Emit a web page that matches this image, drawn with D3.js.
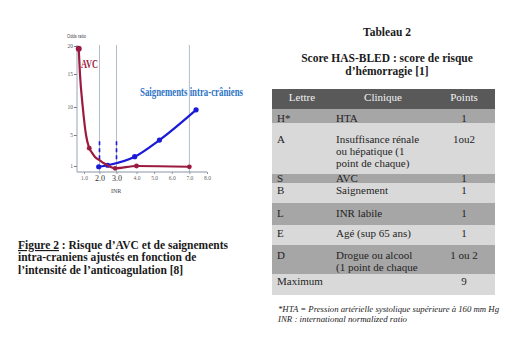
<!DOCTYPE html>
<html><head><meta charset="utf-8">
<script src="https://cdn.jsdelivr.net/npm/d3@7"></script>
<style>body{margin:0;background:#fff}svg{display:block}</style>
</head><body>
<script>
// ---------- data ----------
const xTicks = [1, 2, 3, 4, 5, 6, 7, 8];
const xTickLabels = ["1.0", "2.0", "3.0", "4.0", "5.0", "6.0", "7.0", "8.0"];
const yTicks = [1, 5, 10, 15, 20];
const yTickLabels = ["1", "5", "10", "15", "20"];
const gridINR = [2, 3, 7];
const targetINR = [2, 3];
const targetOR = [1.65, 4.2];
// AVC curve (INR, odds ratio)
const avcINR = [0.66, 0.74, 0.92, 1.13, 1.34, 1.52, 1.71, 2.0, 2.26, 2.62, 2.92, 4.0, 7.0];
const avcOR  = [19.5, 15, 10, 5, 3.3, 2.7, 2.15, 1.75, 1.35, 0.9, 0.7, 1.0, 0.9];
const avcMarkINR = [0.66, 1.34, 2.92, 4.0, 7.0];
const avcMarkOR  = [19.5, 3.3, 0.7, 1.0, 0.9];
// Intracranial bleeding curve
const hemINR = [1.95, 2.48, 3.91, 5.3, 7.38];
const hemOR  = [0.9, 1.1, 2.2, 4.35, 9.5];

const tableHeader = ["Lettre", "Clinique", "Points"];
const tableLetters = ["H*", "A", "S", "B", "L", "E", "D", "Maximum"];
const tableClinique = [["HTA"], ["Insuffisance rénale", "ou hépatique (1", "point de chaque)"], ["AVC"], ["Saignement"], ["INR labile"], ["Agé (sup 65 ans)"], ["Drogue ou alcool", "(1 point de chaque"], [""]];
const tablePoints = ["1", "1ou2", "1", "1", "1", "1", "1 ou 2", "9"];

const captionLines = ["Risque d’AVC et de saignements", "intra-craniens ajustés en fonction de", "l’intensité de l’anticoagulation [8]"];
const footnotes = ["*HTA = Pression artérielle systolique supérieure à 160 mm Hg", "INR : international normalized ratio"];

// ---------- layout ----------
const W = 521, H = 339;
const svg = d3.select("body").append("svg").attr("width", W).attr("height", H);
svg.append("rect").attr("width", W).attr("height", H).attr("fill", "#fff");

const x = d3.scaleLinear().domain([1, 2, 3, 4, 8]).range([84, 99.5, 116.5, 136.5, 207]);
const y = d3.scaleLinear().domain([1, 5, 10, 15, 20]).range([166, 135, 107, 74, 46]);
const axisY = 172, axisX = 77;
const RED = "#9b1b40", BLUE = "#1a1ad8";

const g = svg.append("g");
// gridlines
g.selectAll(".grid").data(gridINR).join("line")
  .attr("x1", d => x(d)).attr("x2", d => x(d)).attr("y1", 45).attr("y2", axisY)
  .attr("stroke", "#b3bccb").attr("stroke-width", 1);

// x axis
const xa = g.append("g").attr("transform", `translate(0,${axisY})`)
  .call(d3.axisBottom(x).tickValues(xTicks).tickSize(2).tickPadding(2).tickFormat((d, i) => xTickLabels[i]));
xa.select(".domain").remove();
xa.selectAll(".tick line").attr("stroke", "#8a94a6");
xa.selectAll(".tick text").attr("font-family", "Liberation Serif").attr("font-size", 5.5).attr("fill", "#666")
  .filter(d => d === 2 || d === 3).attr("font-size", 8).attr("fill", "#333").attr("dy", "0.6em");
g.append("line").attr("x1", axisX).attr("x2", 207).attr("y1", axisY).attr("y2", axisY).attr("stroke", "#8a94a6").attr("stroke-width", 1.2);

// y axis
const ya = g.append("g").attr("transform", `translate(${axisX},0)`)
  .call(d3.axisLeft(y).tickValues(yTicks).tickSize(3).tickPadding(1).tickFormat((d, i) => yTickLabels[i]));
ya.select(".domain").remove();
ya.selectAll(".tick line").attr("stroke", "#777");
ya.selectAll(".tick text").attr("font-family", "Liberation Serif").attr("font-size", 5.5).attr("fill", "#555");
g.append("line").attr("x1", axisX).attr("x2", axisX).attr("y1", 45).attr("y2", axisY).attr("stroke", "#9aa3b3").attr("stroke-width", 1);

g.append("text").attr("x", 67).attr("y", 38).text("Odds ratio")
  .attr("font-family", "Liberation Sans Narrow, Liberation Sans").attr("font-size", 5.5).attr("fill", "#444")
  .attr("textLength", 19).attr("lengthAdjust", "spacingAndGlyphs");
g.append("text").attr("x", 111).attr("y", 193).text("INR")
  .attr("font-family", "Liberation Serif").attr("font-size", 6).attr("fill", "#444");

// target range dashes
g.selectAll(".tgt").data(targetINR).join("line")
  .attr("x1", d => x(d)).attr("x2", d => x(d)).attr("y1", y(targetOR[1])).attr("y2", y(targetOR[0]))
  .attr("stroke", BLUE).attr("stroke-width", 1.6).attr("stroke-dasharray", "4,3");

const line = d3.line().x(d => x(d[0])).y(d => y(d[1])).curve(d3.curveMonotoneX);
const avc = avcINR.map((v, i) => [v, avcOR[i]]);
const hem = hemINR.map((v, i) => [v, hemOR[i]]);

g.append("path").attr("d", line(hem)).attr("fill", "none").attr("stroke", BLUE).attr("stroke-width", 2.2);
g.selectAll(".hm").data(hem).join("circle").attr("cx", d => x(d[0])).attr("cy", d => y(d[1])).attr("r", 2.6).attr("fill", BLUE);

g.append("path").attr("d", line(avc)).attr("fill", "none").attr("stroke", RED).attr("stroke-width", 2.2);
g.selectAll(".am").data(avcMarkINR.map((v, i) => [v, avcMarkOR[i]])).join("circle")
  .attr("cx", d => x(d[0])).attr("cy", d => y(d[1])).attr("r", (d, i) => i === 0 ? 3 : 2.4).attr("fill", RED);

g.append("text").attr("x", 81).attr("y", 67.5).text("AVC")
  .attr("font-family", "Liberation Serif").attr("font-weight", "bold").attr("font-size", 13).attr("fill", RED)
  .attr("textLength", 17).attr("lengthAdjust", "spacingAndGlyphs");
g.append("text").attr("x", 140).attr("y", 95.5).text("Saignements intra-crâniens")
  .attr("font-family", "Liberation Serif").attr("font-weight", "bold").attr("font-size", 12).attr("fill", "#2e74c6")
  .attr("textLength", 103).attr("lengthAdjust", "spacingAndGlyphs");

// caption
const cap = svg.append("g").attr("font-family", "Liberation Serif").attr("font-weight", "bold").attr("font-size", 11.5).attr("fill", "#1a1a1a");
const c1 = cap.append("text").attr("x", 18).attr("y", 249);
c1.append("tspan").text("Figure 2").attr("text-decoration", "underline");
c1.append("tspan").text(" : " + captionLines[0]);
c1.attr("textLength", 210).attr("lengthAdjust", "spacingAndGlyphs");
cap.append("text").attr("x", 18).attr("y", 261).text(captionLines[1]);
cap.append("text").attr("x", 18).attr("y", 273.5).text(captionLines[2]);

// table title
const tt = svg.append("g").attr("font-family", "Liberation Serif").attr("font-weight", "bold").attr("font-size", 11.5).attr("fill", "#1a1a1a").attr("text-anchor", "middle");
tt.append("text").attr("x", 387).attr("y", 36).text("Tableau 2");
tt.append("text").attr("x", 387).attr("y", 62).text("Score HAS-BLED : score de risque");
tt.append("text").attr("x", 387).attr("y", 75).text("d’hémorragie [1]");

// table
const tx0 = 272, tx1 = 495;
const colX = [277, 336, 464];
const rowEdges = [109, 123, 174, 183, 203, 225, 245, 274, 295];
const firstBase = [122, 142.5, 181.5, 194, 216.5, 237, 258.5, 285];
const lineH = 12;
const tab = svg.append("g").attr("font-family", "Liberation Serif").attr("font-size", 11).attr("fill", "#1f1f1f");
tab.append("rect").attr("x", tx0).attr("y", 89).attr("width", tx1 - tx0).attr("height", 20).attr("fill", "#595959");
[302, 383, 464].forEach((cx, i) => tab.append("text").attr("x", cx).attr("y", 101).attr("text-anchor", "middle").attr("fill", "#f2f2f2").text(tableHeader[i]));
tableLetters.forEach((L, i) => {
  tab.append("rect").attr("x", tx0).attr("y", rowEdges[i]).attr("width", tx1 - tx0).attr("height", rowEdges[i + 1] - rowEdges[i])
    .attr("fill", i % 2 === 0 ? "#a6a6a6" : "#d9d9d9");
});
tableLetters.forEach((L, i) => {
  tab.append("text").attr("x", colX[0]).attr("y", firstBase[i]).text(L);
  tableClinique[i].forEach((t, j) => tab.append("text").attr("x", colX[1]).attr("y", firstBase[i] + j * lineH).text(t));
  tab.append("text").attr("x", colX[2]).attr("y", firstBase[i]).attr("text-anchor", "middle").text(tablePoints[i]);
});

// footnotes
const fn = svg.append("g").attr("font-family", "Liberation Serif").attr("font-style", "italic").attr("font-size", 8).attr("fill", "#222");
fn.append("text").attr("x", 278).attr("y", 311.5).text(footnotes[0]).attr("textLength", 221).attr("lengthAdjust", "spacingAndGlyphs");
fn.append("text").attr("x", 278).attr("y", 322).text(footnotes[1]).attr("textLength", 129).attr("lengthAdjust", "spacingAndGlyphs");
</script>
</body></html>
